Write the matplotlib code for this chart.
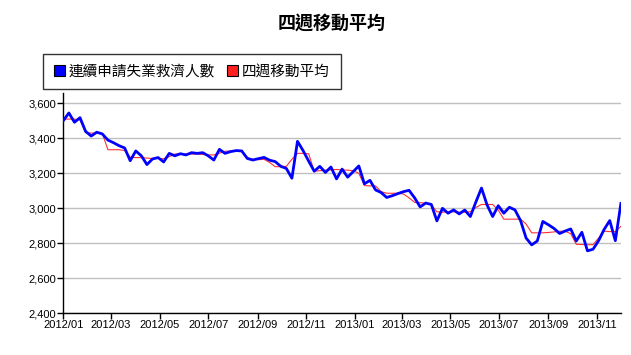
import numpy as np
import pandas as pd
import matplotlib
matplotlib.use('Agg')
import matplotlib.pyplot as plt
import matplotlib.dates as mdates
from matplotlib.patches import Patch

# weekly data, 2012/01 - 2013/12 (thousands)
weeks = pd.date_range('2012-01-01', periods=101, freq='7D')

claims = [3501, 3545, 3492, 3518, 3440, 3413, 3435, 3425, 3390, 3375,
          3358, 3345, 3272, 3328, 3300, 3250, 3282, 3290, 3265, 3314,
          3300, 3312, 3305, 3318, 3314, 3318, 3300, 3276, 3337, 3314,
          3324, 3330, 3328, 3285, 3276, 3284, 3291, 3275, 3267, 3240,
          3228, 3172, 3383, 3330, 3270, 3212, 3240, 3205, 3236, 3168,
          3224, 3178, 3210, 3242, 3140, 3160, 3105, 3090, 3062, 3072,
          3084, 3095, 3103, 3060, 3008, 3030, 3022, 2928, 3000, 2972,
          2991, 2968, 2990, 2953, 3037, 3116, 3019, 2953, 3015, 2972,
          3006, 2991, 2930, 2830, 2791, 2813, 2925, 2906, 2885, 2856,
          2870, 2882, 2813, 2863, 2757, 2766, 2815, 2880, 2930, 2815,
          3028]

avg4 = [3510, 3510, 3510, 3505, 3432, 3430, 3430, 3428, 3335, 3335,
        3335, 3330, 3292, 3290, 3290, 3287, 3285, 3285, 3283, 3295,
        3310, 3312, 3310, 3310, 3310, 3308, 3305, 3305, 3315, 3326,
        3328, 3328, 3325, 3290, 3280, 3278, 3280, 3262, 3238, 3238,
        3240, 3280, 3314, 3314, 3312, 3212, 3215, 3218, 3220, 3222,
        3220, 3218, 3215, 3200, 3130, 3128, 3128, 3095, 3086, 3086,
        3086, 3082, 3060, 3034, 3032, 3030, 3020, 2980, 2978, 2980,
        2980, 2978, 2978, 2980, 3005, 3022, 3022, 3022, 2990, 2938,
        2938, 2938, 2938, 2910, 2860, 2860, 2860, 2862, 2865, 2869,
        2869, 2855, 2794, 2793, 2792, 2792, 2830, 2869, 2867, 2867,
        2897]

title = '四週移動平均'
labels = ['連續申請失業救濟人數', '四週移動平均']
yticks = [2400, 2600, 2800, 3000, 3200, 3400, 3600]

cjk = ['Noto Sans CJK TC', 'DejaVu Sans']

fig = plt.figure(figsize=(6.31, 3.55), dpi=100)
ax = fig.add_axes([0.1003, 0.1175, 0.8837, 0.6195])

# red under the thick blue line
ax.plot(weeks, avg4, color='#ff3030', lw=0.8, zorder=3)
ax.plot(weeks, claims, color='#0000ff', lw=2.0, solid_joinstyle='round', zorder=4)

ax.set_xlim(weeks[0], weeks[-1])
ax.set_ylim(2400, 3657)
ax.set_yticks(yticks)
ax.yaxis.set_major_formatter(matplotlib.ticker.FuncFormatter(lambda v, p: f'{int(v):,}'))
ax.xaxis.set_major_locator(mdates.MonthLocator(bymonth=[1, 3, 5, 7, 9, 11]))
ax.xaxis.set_major_formatter(mdates.DateFormatter('%Y/%m'))

ax.grid(axis='y', color='#c0c0c0', lw=1)
ax.set_axisbelow(True)
for s in ['top', 'right']:
    ax.spines[s].set_visible(False)
for s in ['left', 'bottom']:
    ax.spines[s].set_color('black')
    ax.spines[s].set_linewidth(1)
ax.tick_params(direction='out', length=4, width=1, pad=1, colors='black', labelsize=8)
for t in ax.get_xticklabels() + ax.get_yticklabels():
    t.set_fontfamily('Liberation Sans')

fig.text(0.525, 0.935, title, ha='center', va='center', fontsize=13,
         fontweight='bold', family=cjk)

handles = [Patch(facecolor='#0000ff', edgecolor='black', lw=0.8),
           Patch(facecolor='#ff2020', edgecolor='black', lw=0.8)]
leg = fig.legend(handles, labels, loc='center', bbox_to_anchor=(0.304, 0.7985),
                 ncol=2, frameon=True, fancybox=False, prop={'family': cjk, 'size': 10.5},
                 handlelength=0.75, handleheight=0.75, handletextpad=0.3,
                 columnspacing=0.8, borderpad=0.75, borderaxespad=0)
leg.get_frame().set_edgecolor('black')
leg.get_frame().set_linewidth(1)

fig.savefig('out.png', dpi=100)
